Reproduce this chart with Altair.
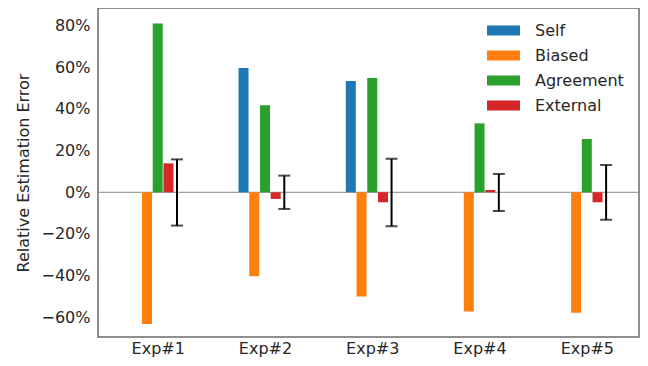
import altair as alt
import pandas as pd

experiments = ["Exp#1", "Exp#2", "Exp#3", "Exp#4", "Exp#5"]
series = ["Self", "Biased", "Agreement", "External"]
self_vals = [None, 0.597, 0.534, None, None]
biased_vals = [-0.632, -0.403, -0.501, -0.573, -0.578]
agreement_vals = [0.811, 0.418, 0.549, 0.331, 0.256]
external_vals = [0.139, -0.032, -0.048, 0.011, -0.048]
err_low = [-0.160, -0.080, -0.163, -0.090, -0.132]
err_high = [0.158, 0.080, 0.161, 0.088, 0.131]
colors = ["#1f77b4", "#ff7f0e", "#2ca02c", "#d62728"]

bar_offsets = {"Self": -0.2, "Biased": -0.1, "Agreement": 0.0, "External": 0.1}
err_offset = 0.18

rows = []
for s, vals in zip(series, [self_vals, biased_vals, agreement_vals, external_vals]):
    for i, v in enumerate(vals):
        if v is None:
            continue
        rows.append({"exp": experiments[i], "series": s, "pos": i + bar_offsets[s], "value": v})
bars_df = pd.DataFrame(rows)

err_df = pd.DataFrame({
    "exp": experiments,
    "pos": [i + err_offset for i in range(len(experiments))],
    "low": err_low,
    "high": err_high,
})

font = "DejaVu Sans"
text_color = "#262626"
label_expr = "[" + ",".join("'" + e + "'" for e in experiments) + "][datum.value]"

x_scale = alt.Scale(domain=[-0.51, 4.44], nice=False, zero=False)
y_scale = alt.Scale(domain=[-0.695, 0.885], nice=False, zero=False)

x_axis = alt.Axis(values=list(range(len(experiments))), labelExpr=label_expr, title=None,
                  grid=False, ticks=False, domain=False, labelFontSize=16, labelColor=text_color,
                  labelFont=font, labelPadding=3)
y_axis = alt.Axis(values=[-0.6, -0.4, -0.2, 0, 0.2, 0.4, 0.6, 0.8], format=".0%",
                  title="Relative Estimation Error", grid=False, ticks=False, domain=False,
                  labelFontSize=16, labelColor=text_color, labelFont=font, labelPadding=8,
                  titleFontSize=16, titleFont=font, titleColor=text_color, titleFontWeight="normal",
                  titlePadding=10)

bars = alt.Chart(bars_df).mark_bar(size=10).encode(
    x=alt.X("pos:Q", scale=x_scale, axis=x_axis),
    y=alt.Y("value:Q", scale=y_scale, axis=y_axis),
    color=alt.Color("series:N", scale=alt.Scale(domain=series, range=colors),
                    legend=alt.Legend(
                        title=None, orient="none", legendX=389, legendY=6,
                        symbolType="M-1,-0.3H1V0.3H-1Z", symbolSize=1089,
                        symbolStrokeWidth=0, labelFontSize=16, labelFont=font,
                        labelColor=text_color, labelOffset=15, rowPadding=-5, padding=0)),
)

zero = alt.Chart(pd.DataFrame({"v": [0]})).mark_rule(color="#888888", strokeWidth=1).encode(
    y=alt.Y("v:Q", scale=y_scale)
)

err_rule = alt.Chart(err_df).mark_rule(color="black", strokeWidth=2).encode(
    x=alt.X("pos:Q", scale=x_scale),
    y=alt.Y("low:Q", scale=y_scale),
    y2="high:Q",
)
cap_low = alt.Chart(err_df).mark_tick(color="black", orient="horizontal", size=12, thickness=2).encode(
    x=alt.X("pos:Q", scale=x_scale),
    y=alt.Y("low:Q", scale=y_scale),
)
cap_high = alt.Chart(err_df).mark_tick(color="black", orient="horizontal", size=12, thickness=2).encode(
    x=alt.X("pos:Q", scale=x_scale),
    y=alt.Y("high:Q", scale=y_scale),
)

chart = alt.layer(zero, bars, err_rule, cap_low, cap_high).properties(
    width=541, height=329,
    autosize=alt.AutoSizeParams(type="none"),
    padding={"left": 90, "top": 0, "right": 1, "bottom": 21},
).configure(font=font).configure_view(stroke="#6a6a6a", strokeWidth=1.5)

chart.save("out.html", embed_options={"renderer": "svg", "actions": False})
